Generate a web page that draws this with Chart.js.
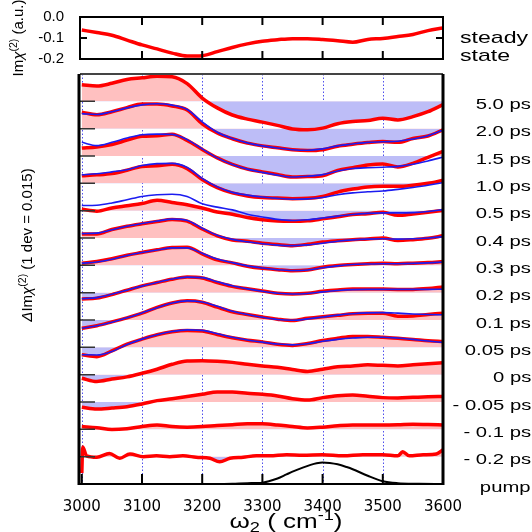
<!DOCTYPE html>
<html>
<head>
<meta charset="utf-8">
<title>Im chi(2) transient spectra</title>
<script src="https://cdn.jsdelivr.net/npm/chart.js@4.4.1/dist/chart.umd.min.js"></script>
<style>
  html, body { margin: 0; padding: 0; background: #fff; }
  body { position: relative; width: 532px; height: 532px; overflow: hidden;
         font-family: "Liberation Sans", Arial, sans-serif; color: #000; }
  canvas { position: absolute; left: 0; }
  #topChart { top: 0; }
  #botChart { top: 70px; }
  .row { position: absolute; right: 1px; font-size: 15px; line-height: 15px; white-space: nowrap;
         transform: scaleX(1.35); transform-origin: right center; }
  .side { position: absolute; left: 460px; font-size: 17px; line-height: 17px; white-space: nowrap;
          transform: scaleX(1.36); transform-origin: left center; }
  .ytitle { position: absolute; font-size: 15px; line-height: 17px; white-space: nowrap;
            transform: translate(-50%, -50%) rotate(-90deg); }
  .xtitle { position: absolute; font-size: 20px; line-height: 22px; white-space: nowrap;
            transform: translate(-50%, -50%) scaleX(1.3); }
  sup, sub { font-size: 70%; line-height: 0; }
  sup { vertical-align: 0.55em; }
  sub { vertical-align: -0.3em; }
</style>
</head>
<body>
<canvas id="topChart" width="532" height="76"></canvas>
<canvas id="botChart" width="532" height="462"></canvas>

<div class="side" style="top:29px">steady</div>
<div class="side" style="top:47px">state</div>
<div class="ytitle" style="left:17px; top:38px">Im<i>χ</i><sup>(2)</sup> (a.u.)</div>
<div class="ytitle" style="left:26px; top:245px"><i>Δ</i>Im<i>χ</i><sup>(2)</sup> (1 dev = 0.015)</div>
<div class="xtitle" style="left:286px; top:521px">ω<sub>2</sub> ( cm<sup>-1</sup>)</div>

<script>
// wavenumber grid (cm-1) shared by most traces
const wn = [3000, 3025, 3050, 3075, 3100, 3125, 3150, 3175, 3200, 3225, 3250, 3275, 3300,
            3325, 3350, 3375, 3400, 3425, 3450, 3475, 3500, 3525, 3550, 3575, 3600];
const xTicks = [3000, 3100, 3200, 3300, 3400, 3500, 3600];

// steady state Im chi(2), a.u.
const steady = [-0.062, -0.074, -0.087, -0.110, -0.133, -0.152, -0.172, -0.186, -0.184, -0.165, -0.145, -0.128, -0.115,
                -0.108, -0.103, -0.103, -0.107, -0.113, -0.120, -0.107, -0.102, -0.093, -0.083, -0.065, -0.052];

// transient difference spectra, in units of 1 dev (= 0.015), relative to each trace's baseline
const t5_0  = [0.61, 0.56, 0.66, 0.80, 0.86, 0.92, 0.90, 0.65, 0.12, -0.24, -0.50, -0.65, -0.76, -0.88, -1.01, -1.04, -0.98, -0.82, -0.74, -0.70, -0.62, -0.68, -0.56, -0.38, -0.12];
const t2_0  = [0.60, 0.51, 0.62, 0.77, 0.90, 0.90, 0.83, 0.68, 0.18, -0.16, -0.37, -0.53, -0.63, -0.70, -0.77, -0.80, -0.77, -0.64, -0.57, -0.51, -0.47, -0.50, -0.36, -0.27, -0.04];
const t1_5  = [0.29, 0.33, 0.42, 0.58, 0.72, 0.74, 0.80, 0.57, 0.24, -0.07, -0.31, -0.48, -0.58, -0.68, -0.77, -0.75, -0.72, -0.53, -0.43, -0.33, -0.29, -0.40, -0.27, -0.05, 0.17];
const t1_0  = [0.28, 0.31, 0.36, 0.48, 0.62, 0.64, 0.70, 0.54, 0.14, -0.16, -0.35, -0.46, -0.52, -0.54, -0.56, -0.55, -0.48, -0.32, -0.21, -0.13, -0.11, -0.11, -0.07, 0.00, 0.11];
const t0_5  = [0.05, -0.02, 0.10, 0.18, 0.26, 0.38, 0.30, 0.22, 0.10, -0.05, -0.13, -0.25, -0.33, -0.38, -0.39, -0.37, -0.30, -0.22, -0.14, -0.11, -0.06, -0.17, -0.12, -0.06, 0.01];
const t0_4  = [0.15, 0.15, 0.31, 0.43, 0.52, 0.60, 0.68, 0.62, 0.33, 0.08, -0.07, -0.12, -0.19, -0.24, -0.28, -0.23, -0.15, -0.10, -0.06, -0.04, 0.00, -0.09, -0.06, -0.01, 0.08];
const t0_3  = [0.08, 0.14, 0.24, 0.37, 0.47, 0.57, 0.65, 0.66, 0.42, 0.20, 0.09, -0.03, -0.11, -0.16, -0.20, -0.17, -0.07, -0.01, 0.03, 0.06, 0.08, 0.06, 0.08, 0.10, 0.14];
const t0_2  = [-0.23, -0.20, -0.07, 0.09, 0.25, 0.37, 0.49, 0.57, 0.54, 0.37, 0.23, 0.14, 0.06, -0.02, -0.05, -0.02, 0.05, 0.10, 0.13, 0.13, 0.13, 0.12, 0.12, 0.15, 0.21];
const t0_1  = [-0.30, -0.21, -0.07, 0.08, 0.25, 0.46, 0.62, 0.70, 0.65, 0.47, 0.30, 0.20, 0.11, 0.03, -0.02, 0.06, 0.12, 0.17, 0.23, 0.25, 0.25, 0.14, 0.15, 0.20, 0.25];
const t0_05 = [-0.27, -0.34, -0.13, 0.12, 0.30, 0.46, 0.57, 0.62, 0.60, 0.47, 0.35, 0.26, 0.20, 0.11, 0.07, 0.14, 0.25, 0.33, 0.40, 0.40, 0.37, 0.33, 0.29, 0.24, 0.21];
const t0_0  = [-0.13, -0.25, -0.16, -0.08, 0.05, 0.20, 0.38, 0.50, 0.51, 0.49, 0.45, 0.38, 0.32, 0.27, 0.19, 0.12, 0.20, 0.29, 0.32, 0.36, 0.34, 0.32, 0.36, 0.40, 0.44];
const tM0_05 = [-0.19, -0.26, -0.22, -0.17, -0.07, 0.05, 0.12, 0.20, 0.28, 0.37, 0.37, 0.32, 0.28, 0.22, 0.12, 0.07, 0.16, 0.23, 0.26, 0.21, 0.16, 0.15, 0.17, 0.19, 0.20];
const tM0_1 = [0.10, 0.06, -0.01, 0.02, 0.10, 0.16, 0.10, 0.08, 0.10, 0.14, 0.17, 0.20, 0.20, 0.16, 0.10, 0.05, 0.08, 0.13, 0.16, 0.16, 0.16, 0.17, 0.19, 0.18, 0.16];
// -0.2 ps has its own, finer grid (spike at 3000 and small wiggles)
const wnM0_2 = [3000, 3001.5, 3008, 3025, 3046, 3063, 3080, 3102, 3124, 3146, 3168, 3190, 3213, 3229, 3246,
                3268, 3290, 3312, 3340, 3367, 3400, 3434, 3467, 3500, 3525, 3533, 3544, 3567, 3589, 3600];
const tM0_2  = [-0.60, 0.35, 0.03, -0.02, 0.12, -0.06, 0.10, 0.00, 0.03, 0.00, 0.03, -0.02, -0.06, -0.19, -0.06,
                -0.02, 0.03, 0.03, 0.07, 0.05, 0.07, 0.03, 0.07, 0.07, 0.03, 0.18, 0.03, 0.07, 0.10, 0.25];

// model fits (blue)
const f2_0  = [0.55, 0.52, 0.62, 0.76, 0.87, 0.91, 0.86, 0.70, 0.25, -0.13, -0.36, -0.52, -0.63, -0.71, -0.77, -0.79, -0.74, -0.63, -0.56, -0.50, -0.48, -0.46, -0.38, -0.26, -0.05];
const f1_5  = [0.50, 0.38, 0.50, 0.66, 0.78, 0.80, 0.79, 0.60, 0.26, -0.07, -0.31, -0.48, -0.60, -0.70, -0.77, -0.74, -0.68, -0.55, -0.46, -0.43, -0.41, -0.38, -0.30, -0.18, -0.04];
const f1_0  = [0.31, 0.35, 0.42, 0.50, 0.65, 0.72, 0.73, 0.58, 0.18, -0.13, -0.33, -0.43, -0.50, -0.55, -0.58, -0.57, -0.52, -0.42, -0.35, -0.31, -0.28, -0.22, -0.15, -0.07, 0.03];
const f0_5  = [0.19, 0.20, 0.28, 0.40, 0.52, 0.58, 0.60, 0.52, 0.25, 0.13, 0.03, -0.13, -0.23, -0.32, -0.36, -0.33, -0.27, -0.20, -0.14, -0.10, -0.08, -0.08, -0.07, -0.03, 0.04];
const f0_4  = [0.16, 0.18, 0.30, 0.43, 0.53, 0.62, 0.69, 0.64, 0.36, 0.10, -0.05, -0.14, -0.21, -0.26, -0.28, -0.25, -0.19, -0.12, -0.07, -0.04, -0.03, -0.04, -0.03, 0.00, 0.05];
const f0_3  = [0.08, 0.12, 0.22, 0.36, 0.47, 0.56, 0.64, 0.64, 0.44, 0.23, 0.10, -0.02, -0.10, -0.16, -0.19, -0.17, -0.09, -0.02, 0.03, 0.05, 0.06, 0.06, 0.07, 0.09, 0.12];
const f0_2  = [-0.22, -0.18, -0.06, 0.09, 0.24, 0.37, 0.50, 0.57, 0.55, 0.40, 0.25, 0.14, 0.05, -0.02, -0.05, -0.03, 0.03, 0.08, 0.11, 0.12, 0.12, 0.12, 0.12, 0.12, 0.13];
const f0_1  = [-0.30, -0.21, -0.08, 0.08, 0.26, 0.45, 0.62, 0.70, 0.66, 0.50, 0.32, 0.20, 0.10, 0.02, -0.01, 0.04, 0.11, 0.18, 0.23, 0.26, 0.27, 0.25, 0.22, 0.20, 0.19];
const f0_05 = [-0.27, -0.28, -0.15, 0.10, 0.30, 0.46, 0.58, 0.64, 0.62, 0.50, 0.37, 0.27, 0.19, 0.12, 0.09, 0.13, 0.22, 0.29, 0.34, 0.37, 0.37, 0.34, 0.29, 0.23, 0.18];

// pump spectrum (dev units above the bottom axis)
const wnPump = [3230, 3250, 3275, 3300, 3325, 3340, 3350, 3367, 3380, 3390, 3400, 3412, 3425, 3440, 3450, 3475, 3500, 3525, 3560, 3600];
const pump   = [0.00, 0.01, 0.03, 0.05, 0.20, 0.35, 0.45, 0.60, 0.70, 0.76, 0.79, 0.77, 0.72, 0.62, 0.54, 0.30, 0.10, 0.03, 0.01, 0.00];

const rowLabels = ["5.0 ps", "2.0 ps", "1.5 ps", "1.0 ps", "0.5 ps", "0.4 ps", "0.3 ps", "0.2 ps",
                   "0.1 ps", "0.05 ps", "0 ps", "- 0.05 ps", "- 0.1 ps", "- 0.2 ps"];
const rowData = [t5_0, t2_0, t1_5, t1_0, t0_5, t0_4, t0_3, t0_2, t0_1, t0_05, t0_0, tM0_05, tM0_1, tM0_2];
const rowX    = [wn, wn, wn, wn, wn, wn, wn, wn, wn, wn, wn, wn, wn, wnM0_2];
const rowFits = [null, f2_0, f1_5, f1_0, f0_5, f0_4, f0_3, f0_2, f0_1, f0_05, null, null, null, null];

const RED = "#ff0000", FITBLUE = "#1c1cf0", PINK = "#ffc0c0", LAV = "#bdbdf7";
const X_MIN = 2997, X_MAX = 3600;

function pts(xs, ys, base) {
  return ys.map((v, k) => ({ x: xs[k], y: base + v }));
}

/* ---------- top panel: steady state ---------- */
const topFrame = {
  id: "topFrame",
  afterDatasetsDraw(chart) {
    const { ctx, chartArea: a, scales } = chart;
    ctx.save();
    ctx.strokeStyle = "#000";
    ctx.lineWidth = 2;
    ctx.strokeRect(a.left, a.top, a.right - a.left, a.bottom - a.top);
    ctx.beginPath();
    xTicks.slice(1, -1).forEach((v) => {
      const x = scales.x.getPixelForValue(v);
      ctx.moveTo(x, a.top); ctx.lineTo(x, a.top + 8);
      ctx.moveTo(x, a.bottom); ctx.lineTo(x, a.bottom - 8);
    });
    const y = scales.y.getPixelForValue(-0.1);
    ctx.moveTo(a.left, y); ctx.lineTo(a.left + 7, y);
    ctx.moveTo(a.right, y); ctx.lineTo(a.right - 7, y);
    ctx.stroke();
    ctx.restore();
  },
};

new Chart(document.getElementById("topChart"), {
  type: "line",
  data: {
    datasets: [{
      data: pts(wn, steady, 0),
      borderColor: RED, borderWidth: 3.5, pointRadius: 0,
      cubicInterpolationMode: "monotone", fill: false,
    }],
  },
  options: {
    responsive: false, animation: false, events: [],
    layout: { padding: { top: 16, right: 89, bottom: 5, left: 0 } },
    plugins: { legend: { display: false }, tooltip: { enabled: false } },
    scales: {
      x: { type: "linear", min: X_MIN, max: X_MAX, display: false },
      y: {
        min: -0.2, max: 0.0,
        afterFit: (s) => { s.width = 80; },
        grid: { display: false }, border: { display: false },
        ticks: {
          stepSize: 0.1, padding: 8, color: "#000",
          font: { family: "Liberation Sans", size: 15 },
          callback: (v) => (Math.abs(v) < 1e-9 ? "0.0" : v.toFixed(1)),
        },
      },
    },
  },
  plugins: [topFrame],
});

/* ---------- bottom panel: stacked transients ---------- */
const nRows = rowData.length;
const datasets = [];
rowData.forEach((vals, i) => {
  const base = nRows - i;
  datasets.push({
    data: pts(rowX[i], vals, base),
    borderColor: RED, borderWidth: 3.5, pointRadius: 0,
    cubicInterpolationMode: "monotone",
    fill: { target: { value: base }, above: PINK, below: LAV },
    order: 2,
  });
  if (rowFits[i]) {
    datasets.push({
      data: pts(wn, rowFits[i], base),
      borderColor: FITBLUE, borderWidth: 1.6, pointRadius: 0,
      cubicInterpolationMode: "monotone", fill: false, order: 1,
    });
  }
});
datasets.push({
  data: pts(wnPump, pump, 0),
  borderColor: "#000", borderWidth: 2, pointRadius: 0,
  cubicInterpolationMode: "monotone", fill: false, order: 1,
});

const botFrame = {
  id: "botFrame",
  beforeDraw(chart) {
    // dotted blue guide lines, under the fills
    const { ctx, chartArea: a, scales } = chart;
    ctx.save();
    ctx.strokeStyle = "rgba(60,60,235,0.9)";
    ctx.lineWidth = 1;
    ctx.setLineDash([1.5, 2]);
    ctx.beginPath();
    xTicks.slice(0, -1).forEach((v) => {
      const x = Math.round(scales.x.getPixelForValue(v)) + 0.5;
      ctx.moveTo(x, a.top); ctx.lineTo(x, a.bottom);
    });
    ctx.stroke();
    ctx.restore();
  },
  afterDatasetsDraw(chart) {
    const { ctx, chartArea: a, scales } = chart;
    ctx.save();
    // baseline ticks on the left
    ctx.strokeStyle = "#333";
    ctx.lineWidth = 1.5;
    ctx.beginPath();
    for (let b = 1; b <= nRows; b++) {
      const y = scales.y.getPixelForValue(b);
      ctx.moveTo(a.left, y); ctx.lineTo(a.left + 15, y);
    }
    ctx.stroke();
    // bottom ticks
    ctx.strokeStyle = "#000";
    ctx.lineWidth = 2;
    ctx.beginPath();
    xTicks.slice(0, -1).forEach((v) => {
      const x = scales.x.getPixelForValue(v);
      ctx.moveTo(x, a.bottom); ctx.lineTo(x, a.bottom - 10);
    });
    ctx.stroke();
    // frame
    ctx.strokeStyle = "#444";
    ctx.lineWidth = 2;
    ctx.beginPath(); ctx.moveTo(a.left, a.top); ctx.lineTo(a.right, a.top); ctx.stroke();
    ctx.strokeStyle = "#000";
    ctx.lineWidth = 2;
    ctx.beginPath(); ctx.moveTo(a.left, a.bottom); ctx.lineTo(a.right, a.bottom); ctx.stroke();
    ctx.lineWidth = 3;
    ctx.beginPath();
    ctx.moveTo(a.left - 1, a.top); ctx.lineTo(a.left - 1, a.bottom + 1);
    ctx.moveTo(a.right, a.top); ctx.lineTo(a.right, a.bottom + 1);
    ctx.stroke();
    ctx.restore();
  },
};

const bot = new Chart(document.getElementById("botChart"), {
  type: "line",
  data: { datasets },
  options: {
    responsive: false, animation: false, events: [],
    layout: { padding: { top: 4, right: 89, bottom: 0, left: 80 } },
    plugins: {
      legend: { display: false }, tooltip: { enabled: false },
      filler: { drawTime: "beforeDatasetsDraw" },
    },
    scales: {
      x: {
        type: "linear", min: X_MIN, max: X_MAX,
        afterFit: (s) => { s.height = 48; },
        afterBuildTicks: (s) => { s.ticks = xTicks.map((v) => ({ value: v })); },
        grid: { display: false }, border: { display: false },
        ticks: {
          padding: 6, color: "#000", maxRotation: 0, autoSkip: false,
          font: { family: "DejaVu Sans", size: 15 },
          callback: (v) => String(v),
        },
      },
      y: { min: 0, max: 15, display: false },
    },
  },
  plugins: [botFrame],
});

// delay labels on the right, placed at each trace baseline
const yScale = bot.scales.y;
const labels = rowLabels.concat(["pump"]);
labels.forEach((txt, i) => {
  const base = nRows - i;
  const yc = 70 + yScale.getPixelForValue(base) + 2;
  const d = document.createElement("div");
  d.className = "row";
  d.textContent = txt;
  d.style.top = (yc - 7.5) + "px";
  document.body.appendChild(d);
});
</script>
</body>
</html>
